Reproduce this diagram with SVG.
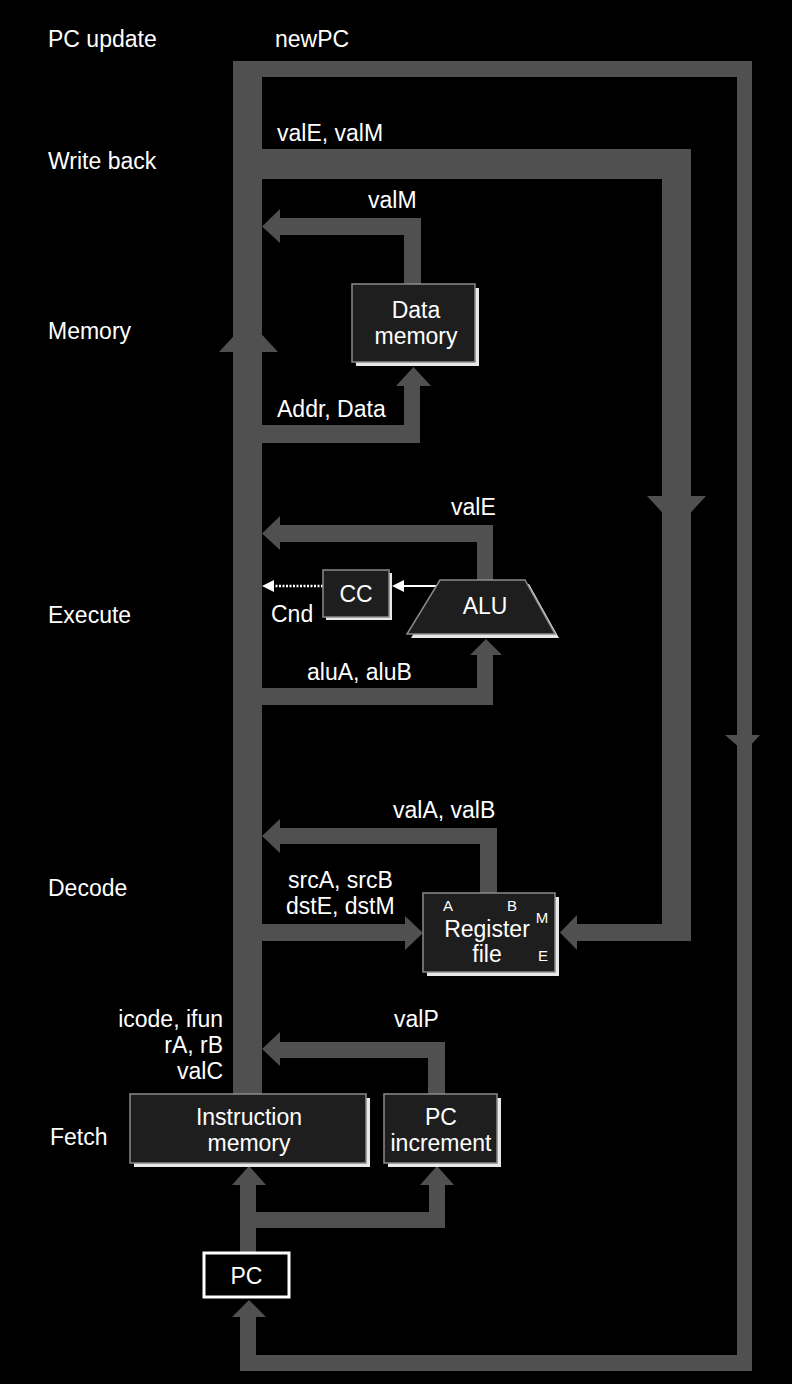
<svg xmlns="http://www.w3.org/2000/svg" width="792" height="1384" viewBox="0 0 792 1384">
<style>
.t{font-family:"Liberation Sans",Arial,sans-serif;font-size:23px;fill:#fff}
.m{text-anchor:middle}
.e{text-anchor:end}
.s{font-family:"Liberation Sans",Arial,sans-serif;font-size:15px;fill:#fff;text-anchor:middle}
.bar{fill:#505050}
.box{fill:#1e1e1e;stroke:#8a8a8a;stroke-width:1.5}
.sh{fill:#e8e8e8}
</style>
<rect x="0" y="0" width="792" height="1384" fill="#000"/>
<g id="stage-labels">
<text class="t" x="48" y="47">PC update</text>
<text class="t" x="48" y="169">Write back</text>
<text class="t" x="48" y="339">Memory</text>
<text class="t" x="48" y="623">Execute</text>
<text class="t" x="48" y="896">Decode</text>
<text class="t" x="50" y="1145">Fetch</text>
</g>
<g id="connectors">
<!-- main bus -->
<rect class="bar" x="233" y="61" width="29" height="1033"/>
<polygon class="bar" points="219,352 278,352 248.5,320"/>
<!-- newPC loop -->
<rect class="bar" x="233" y="61" width="519" height="16"/>
<rect class="bar" x="737" y="61" width="15" height="1310"/>
<polygon class="bar" points="725,735 760,735 744.5,752"/>
<rect class="bar" x="240" y="1355" width="512" height="16"/>
<rect class="bar" x="240" y="1315" width="16" height="56"/>
<polygon class="bar" points="232,1317 266,1317 249,1300"/>
<!-- write back -->
<rect class="bar" x="262" y="149" width="429" height="30"/>
<rect class="bar" x="662" y="149" width="29" height="792"/>
<polygon class="bar" points="647,496 706,496 676.5,528"/>
<rect class="bar" x="577" y="924" width="114" height="17"/>
<polygon class="bar" points="577,915 577,950 560,932.5"/>
<!-- valM -->
<rect class="bar" x="404" y="218" width="17" height="67"/>
<rect class="bar" x="280" y="218" width="141" height="17"/>
<polygon class="bar" points="280,209 280,243 262,226.5"/>
<!-- Addr, Data -->
<rect class="bar" x="262" y="425" width="158" height="18"/>
<rect class="bar" x="404" y="384" width="16" height="59"/>
<polygon class="bar" points="396,386 431,386 413.5,367"/>
<!-- valE -->
<rect class="bar" x="477" y="525" width="16" height="56"/>
<rect class="bar" x="280" y="525" width="213" height="17"/>
<polygon class="bar" points="280,516 280,550 262,533.5"/>
<!-- aluA, aluB -->
<rect class="bar" x="262" y="688" width="231" height="17"/>
<rect class="bar" x="477" y="654" width="16" height="51"/>
<polygon class="bar" points="470,655 502,655 486,639"/>
<!-- CC / Cnd -->
<line x1="437" y1="586" x2="400" y2="586" stroke="#fff" stroke-width="2"/>
<polygon points="404,580 404,592 392,586" fill="#fff"/>
<line x1="323" y1="586" x2="272" y2="586" stroke="#fff" stroke-width="2.5" stroke-dasharray="2,1.5"/>
<polygon points="274,580 274,592 262,586" fill="#fff"/>
<!-- valA, valB -->
<rect class="bar" x="480" y="828" width="17" height="66"/>
<rect class="bar" x="280" y="828" width="217" height="16"/>
<polygon class="bar" points="280,819 280,853 262,836"/>
<!-- srcA ... to register file -->
<rect class="bar" x="262" y="924" width="144" height="17"/>
<polygon class="bar" points="405,916 405,950 423,933"/>
<!-- valP -->
<rect class="bar" x="428" y="1042" width="17" height="53"/>
<rect class="bar" x="280" y="1042" width="165" height="16"/>
<polygon class="bar" points="280,1032 280,1066 262,1049"/>
<!-- PC to fetch -->
<rect class="bar" x="240" y="1182" width="16" height="71"/>
<rect class="bar" x="240" y="1212" width="205" height="16"/>
<rect class="bar" x="429" y="1182" width="16" height="46"/>
<polygon class="bar" points="232,1185 266,1185 249,1166"/>
<polygon class="bar" points="420,1185 454,1185 437,1166"/>
</g>
<g id="flow-labels">
<text class="t" x="275" y="47">newPC</text>
<text class="t" x="277" y="141">valE, valM</text>
<text class="t" x="368" y="208">valM</text>
<text class="t" x="277" y="417">Addr, Data</text>
<text class="t" x="451" y="515">valE</text>
<text class="t" x="271" y="622">Cnd</text>
<text class="t" x="307" y="680">aluA, aluB</text>
<text class="t" x="393" y="818">valA, valB</text>
<text class="t" x="288" y="888">srcA, srcB</text>
<text class="t" x="286" y="914">dstE, dstM</text>
<text class="t" x="394" y="1027">valP</text>
<text class="t e" x="223" y="1027">icode, ifun</text>
<text class="t e" x="223" y="1053">rA, rB</text>
<text class="t e" x="223" y="1079">valC</text>
</g>
<g id="data-memory">
<rect class="sh" x="356" y="288" width="123" height="78"/>
<rect class="box" x="352" y="284" width="123" height="78"/>
<text class="t m" x="416" y="318">Data</text>
<text class="t m" x="416" y="344">memory</text>
</g>
<g id="cc">
<rect class="sh" x="326" y="573" width="66" height="47"/>
<rect class="box" x="323" y="570" width="66" height="47"/>
<text class="t m" x="356" y="602">CC</text>
</g>
<g id="alu">
<polygon class="sh" points="444,584 529,584 559,638 411,638"/>
<polygon class="box" points="440,580 525,580 555,634 407,634"/>
<text class="t m" x="485" y="614">ALU</text>
</g>
<g id="register-file">
<rect class="sh" x="427" y="897" width="132" height="79"/>
<rect class="box" x="423" y="893" width="132" height="79"/>
<text class="s" x="448" y="911">A</text>
<text class="s" x="512" y="911">B</text>
<text class="s" x="542" y="923">M</text>
<text class="s" x="543" y="961">E</text>
<text class="t m" x="487" y="937">Register</text>
<text class="t m" x="487" y="962">file</text>
</g>
<g id="instruction-memory">
<rect class="sh" x="134" y="1098" width="236" height="69"/>
<rect class="box" x="130" y="1094" width="236" height="69"/>
<text class="t m" x="249" y="1125">Instruction</text>
<text class="t m" x="249" y="1151">memory</text>
</g>
<g id="pc-increment">
<rect class="sh" x="388" y="1098" width="113" height="69"/>
<rect class="box" x="384" y="1094" width="113" height="69"/>
<text class="t m" x="441" y="1125">PC</text>
<text class="t m" x="441" y="1151">increment</text>
</g>
<g id="pc">
<rect x="204" y="1253" width="85" height="44" fill="#000" stroke="#fff" stroke-width="3"/>
<text class="t m" x="246.5" y="1284">PC</text>
</g>
</svg>
